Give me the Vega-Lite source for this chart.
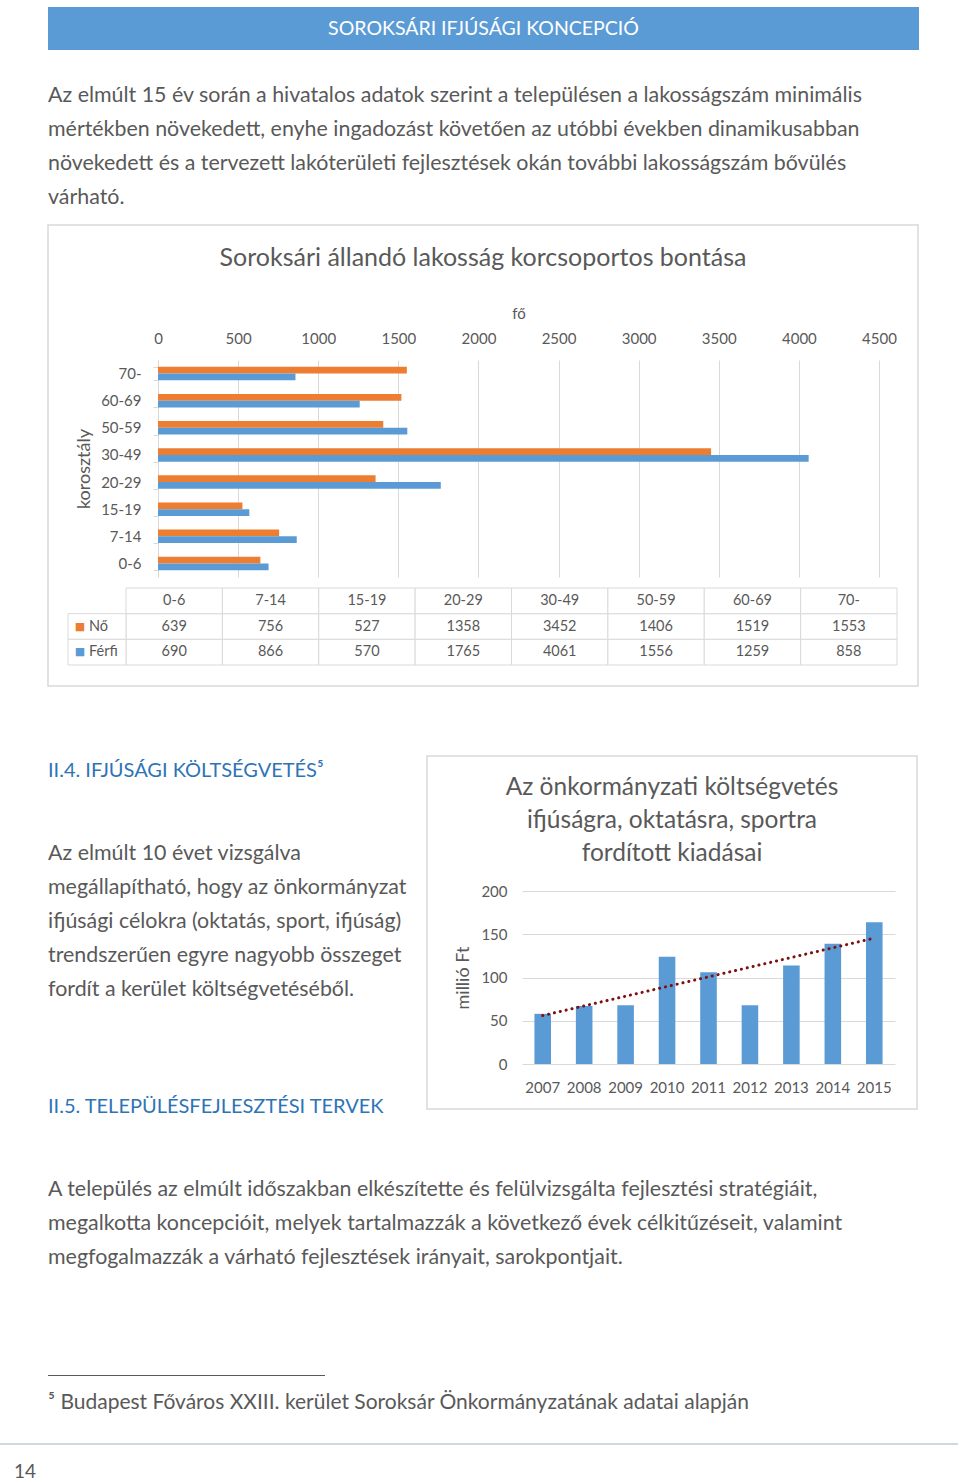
{
  "$schema": "https://vega.github.io/schema/vega-lite/v6.json",
  "padding": {"left": 0, "top": 7, "right": 0, "bottom": 0},
  "background": "white",
  "bounds": "flush",
  "spacing": 0,
  "config": {
    "font": "Lato",
    "view": {"stroke": null},
    "title": {"fontWeight": "normal", "color": "#595959", "subtitleColor": "#595959"},
    "axis": {"labelColor": "#595959", "titleColor": "#595959", "titleFontWeight": "normal"}
  },
  "datasets": {
    "lak": [
      {"kor": "0-6", "nem": "Nő", "fo": 639}, {"kor": "0-6", "nem": "Férfi", "fo": 690},
      {"kor": "7-14", "nem": "Nő", "fo": 756}, {"kor": "7-14", "nem": "Férfi", "fo": 866},
      {"kor": "15-19", "nem": "Nő", "fo": 527}, {"kor": "15-19", "nem": "Férfi", "fo": 570},
      {"kor": "20-29", "nem": "Nő", "fo": 1358}, {"kor": "20-29", "nem": "Férfi", "fo": 1765},
      {"kor": "30-49", "nem": "Nő", "fo": 3452}, {"kor": "30-49", "nem": "Férfi", "fo": 4061},
      {"kor": "50-59", "nem": "Nő", "fo": 1406}, {"kor": "50-59", "nem": "Férfi", "fo": 1556},
      {"kor": "60-69", "nem": "Nő", "fo": 1519}, {"kor": "60-69", "nem": "Férfi", "fo": 1259},
      {"kor": "70-", "nem": "Nő", "fo": 1553}, {"kor": "70-", "nem": "Férfi", "fo": 858}
    ],
    "kolts": [
      {"ev": "2007", "ertek": 58}, {"ev": "2008", "ertek": 67}, {"ev": "2009", "ertek": 68},
      {"ev": "2010", "ertek": 124}, {"ev": "2011", "ertek": 106}, {"ev": "2012", "ertek": 68},
      {"ev": "2013", "ertek": 114}, {"ev": "2014", "ertek": 139}, {"ev": "2015", "ertek": 164}
    ],
    "trend": [
      {"ev": "2007", "ertek": 56}, {"ev": "2015", "ertek": 145.5}
    ],
    "ures": [{}]
  },
  "vconcat": [
    {
      "hconcat": [
        {"width": 48, "height": 43, "data": {"name": "ures"}, "mark": "text", "encoding": {"text": {"value": ""}}},
        {"width": 871, "height": 43, "view": {"fill": "#5B9BD5", "stroke": null},
         "data": {"values": [{"t": "SOROKSÁRI IFJÚSÁGI KONCEPCIÓ"}]},
         "mark": {"type": "text", "color": "white", "fontSize": 19.5, "baseline": "middle", "align": "center"},
         "encoding": {"text": {"field": "t"}}}
      ],
      "spacing": 0, "bounds": "flush"
    },
    {"width": 960, "height": 218, "data": {"name": "ures"}, "mark": "text", "encoding": {"text": {"value": ""}}},
    {
      "hconcat": [
        {"width": 48, "height": 461, "data": {"name": "ures"}, "mark": "text", "encoding": {"text": {"value": ""}},
         "title": {"text": ["\u00a0Az elmúlt 15 év során a hivatalos adatok szerint a településen a lakosságszám minimális", "mértékben növekedett, enyhe ingadozást követően az utóbbi években dinamikusabban", "növekedett és a tervezett lakóterületi fejlesztések okán további lakosságszám bővülés", "várható."],
                   "anchor": "start", "frame": "group", "orient": "top", "offset": 17, "dx": 48, "fontSize": 21.4, "lineHeight": 34, "color": "#595959", "fontWeight": "normal"}},
        {
          "width": 870, "height": 461,
          "view": {"stroke": "#d9d9d9", "strokeWidth": 1.5},
          "title": {"text": "Soroksári állandó lakosság korcsoportos bontása", "anchor": "middle", "frame": "group", "offset": -73, "baseline": "alphabetic", "fontSize": 25, "color": "#595959", "fontWeight": "normal"},
          "resolve": {"scale": {"x": "independent", "y": "independent"}},
          "layer": [
            {
              "data": {"name": "lak"},
              "mark": {"type": "bar"},
              "encoding": {
                "x": {"field": "fo", "type": "quantitative",
                      "scale": {"domain": [0, 4500], "range": [110, 831], "nice": false},
                      "axis": {"orient": "top", "offset": -135, "values": [0, 500, 1000, 1500, 2000, 2500, 3000, 3500, 4000, 4500], "format": "d",
                               "domain": false, "ticks": false, "labelPadding": 14, "labelFontSize": 15, "labelFlush": false,
                               "grid": true, "gridColor": "#d9d9d9", "gridWidth": 1,
                               "title": "fő", "titleFontSize": 15, "titlePadding": 10}},
                "y": {"field": "kor", "type": "nominal",
                      "scale": {"domain": ["70-", "60-69", "50-59", "30-49", "20-29", "15-19", "7-14", "0-6"], "range": [135, 352], "paddingInner": 0.5, "paddingOuter": 0.25},
                      "axis": {"offset": -110, "domainColor": "#d9d9d9", "tickColor": "#d9d9d9", "tickBand": "extent", "tickSize": 5,
                               "labelPadding": 12, "labelFontSize": 15, "title": "korosztály", "titleFontSize": 18, "titlePadding": 7}},
                "yOffset": {"field": "nem", "type": "nominal", "scale": {"domain": ["Nő", "Férfi"], "paddingInner": 0}},
                "color": {"field": "nem", "type": "nominal", "scale": {"domain": ["Nő", "Férfi"], "range": ["#ED7D31", "#5B9BD5"]}, "legend": null}
              }
            },
            {
              "data": {"name": "lak"},
              "mark": {"type": "rect", "fill": "white", "stroke": "#d9d9d9", "strokeWidth": 1},
              "encoding": {
                "x": {"field": "kor", "type": "nominal", "axis": null,
                      "scale": {"domain": ["0-6", "7-14", "15-19", "20-29", "30-49", "50-59", "60-69", "70-"], "range": [78, 849], "paddingInner": 0, "paddingOuter": 0}},
                "y": {"field": "nem", "type": "nominal", "axis": null,
                      "scale": {"domain": ["fej", "Nő", "Férfi"], "range": [363, 440], "paddingInner": 0, "paddingOuter": 0}}
              }
            },
            {
              "data": {"name": "lak"},
              "mark": {"type": "text", "fontSize": 14.5, "color": "#595959"},
              "encoding": {
                "x": {"field": "kor", "type": "nominal", "axis": null,
                      "scale": {"domain": ["0-6", "7-14", "15-19", "20-29", "30-49", "50-59", "60-69", "70-"], "range": [78, 849], "paddingInner": 0, "paddingOuter": 0}},
                "y": {"field": "nem", "type": "nominal", "axis": null,
                      "scale": {"domain": ["fej", "Nő", "Férfi"], "range": [363, 440], "paddingInner": 0, "paddingOuter": 0}},
                "text": {"field": "fo", "type": "quantitative", "format": "d"}
              }
            },
            {
              "data": {"name": "lak"},
              "transform": [{"filter": "datum.nem == 'Nő'"}],
              "mark": {"type": "rect", "fill": "white", "stroke": "#d9d9d9", "strokeWidth": 1},
              "encoding": {
                "x": {"field": "kor", "type": "nominal", "axis": null,
                      "scale": {"domain": ["0-6", "7-14", "15-19", "20-29", "30-49", "50-59", "60-69", "70-"], "range": [78, 849], "paddingInner": 0, "paddingOuter": 0}},
                "y": {"datum": "fej", "type": "nominal", "axis": null,
                      "scale": {"domain": ["fej", "Nő", "Férfi"], "range": [363, 440], "paddingInner": 0, "paddingOuter": 0}}
              }
            },
            {
              "data": {"name": "lak"},
              "transform": [{"filter": "datum.nem == 'Nő'"}],
              "mark": {"type": "text", "fontSize": 14.5, "color": "#595959"},
              "encoding": {
                "x": {"field": "kor", "type": "nominal", "axis": null,
                      "scale": {"domain": ["0-6", "7-14", "15-19", "20-29", "30-49", "50-59", "60-69", "70-"], "range": [78, 849], "paddingInner": 0, "paddingOuter": 0}},
                "y": {"datum": "fej", "type": "nominal", "axis": null,
                      "scale": {"domain": ["fej", "Nő", "Férfi"], "range": [363, 440], "paddingInner": 0, "paddingOuter": 0}},
                "text": {"field": "kor"}
              }
            },
            {
              "data": {"name": "lak"},
              "transform": [{"filter": "datum.kor == '0-6'"}],
              "mark": {"type": "rect", "fill": "white", "stroke": "#d9d9d9", "strokeWidth": 1},
              "encoding": {
                "x": {"datum": "lbl", "type": "nominal", "axis": null,
                      "scale": {"domain": ["lbl"], "range": [20, 78], "paddingInner": 0, "paddingOuter": 0}},
                "y": {"field": "nem", "type": "nominal", "axis": null,
                      "scale": {"domain": ["fej", "Nő", "Férfi"], "range": [363, 440], "paddingInner": 0, "paddingOuter": 0}}
              }
            },
            {
              "data": {"name": "lak"},
              "transform": [{"filter": "datum.kor == '0-6'"}],
              "mark": {"type": "text", "fontSize": 11, "dx": -17, "font": "DejaVu Sans"},
              "encoding": {
                "x": {"datum": "lbl", "type": "nominal", "axis": null,
                      "scale": {"domain": ["lbl"], "range": [20, 78], "paddingInner": 0, "paddingOuter": 0}},
                "y": {"field": "nem", "type": "nominal", "axis": null,
                      "scale": {"domain": ["fej", "Nő", "Férfi"], "range": [363, 440], "paddingInner": 0, "paddingOuter": 0}},
                "text": {"value": "■"},
                "color": {"field": "nem", "type": "nominal", "legend": null}
              }
            },
            {
              "data": {"name": "lak"},
              "transform": [{"filter": "datum.kor == '0-6'"}],
              "mark": {"type": "text", "fontSize": 14.5, "align": "left", "dx": -8, "color": "#595959"},
              "encoding": {
                "x": {"datum": "lbl", "type": "nominal", "axis": null,
                      "scale": {"domain": ["lbl"], "range": [20, 78], "paddingInner": 0, "paddingOuter": 0}},
                "y": {"field": "nem", "type": "nominal", "axis": null,
                      "scale": {"domain": ["fej", "Nő", "Férfi"], "range": [363, 440], "paddingInner": 0, "paddingOuter": 0}},
                "text": {"field": "nem"}
              }
            }
          ]
        }
      ],
      "spacing": 0, "bounds": "flush"
    },
    {"width": 960, "height": 531, "data": {"name": "ures"}, "mark": "text", "encoding": {"text": {"value": ""}},
     "title": {"text": "II.4. IFJÚSÁGI KÖLTSÉGVETÉS⁵", "color": "#2E74B5", "fontSize": 20, "fontWeight": "normal",
               "subtitle": ["Az elmúlt 10 évet vizsgálva", "megállapítható, hogy az önkormányzat", "ifjúsági célokra (oktatás, sport, ifjúság)", "trendszerűen egyre nagyobb összeget", "fordít a kerület költségvetéséből."],
               "subtitleColor": "#595959", "subtitleFontSize": 21.4, "subtitleLineHeight": 34, "subtitlePadding": 62,
               "anchor": "start", "frame": "group", "orient": "bottom", "offset": 5, "dx": 48}},
    {
      "hconcat": [
        {"width": 427, "height": 353, "data": {"name": "ures"}, "mark": "text", "encoding": {"text": {"value": ""}}},
        {
          "width": 490, "height": 353,
          "view": {"stroke": "#d9d9d9", "strokeWidth": 1.5},
          "title": {"text": ["Az önkormányzati költségvetés", "ifjúságra, oktatásra, sportra", "fordított kiadásai"], "anchor": "middle", "frame": "group", "offset": -110, "baseline": "top", "fontSize": 24.5, "lineHeight": 33, "color": "#595959", "fontWeight": "normal"},
          "layer": [
            {
              "data": {"name": "kolts"},
              "mark": {"type": "bar", "color": "#5B9BD5"},
              "encoding": {
                "x": {"field": "ev", "type": "nominal",
                      "scale": {"domain": ["2007", "2008", "2009", "2010", "2011", "2012", "2013", "2014", "2015"], "range": [95, 468], "paddingInner": 0.6, "paddingOuter": 0.3},
                      "axis": {"orient": "bottom", "offset": -45, "domain": false, "ticks": false, "labelAngle": 0, "labelPadding": 16, "labelFontSize": 15, "title": null}},
                "y": {"field": "ertek", "type": "quantitative",
                      "scale": {"domain": [0, 200], "range": [308, 135], "nice": false},
                      "axis": {"offset": -95, "values": [0, 50, 100, 150, 200], "domain": false, "ticks": false, "grid": true, "gridColor": "#d9d9d9",
                               "labelPadding": 15, "labelFontSize": 15, "title": "millió Ft", "titleFontSize": 18, "titlePadding": 8}}
              }
            },
            {
              "data": {"name": "trend"},
              "mark": {"type": "line", "color": "#7F1010", "strokeWidth": 3, "strokeDash": [0.1, 5.9], "strokeCap": "round"},
              "encoding": {
                "x": {"field": "ev", "type": "nominal"},
                "y": {"field": "ertek", "type": "quantitative"}
              }
            }
          ]
        }
      ],
      "spacing": 0, "bounds": "flush"
    },
    {"width": 960, "height": 619, "data": {"name": "ures"}, "mark": "text", "encoding": {"text": {"value": ""}}},
    {
      "hconcat": [
        {"width": 48, "height": 1, "data": {"name": "ures"}, "mark": "text", "encoding": {"text": {"value": ""}},
         "title": {"text": "II.5. TELEPÜLÉSFEJLESZTÉSI TERVEK", "color": "#2E74B5", "fontSize": 20, "fontWeight": "normal",
                   "subtitle": ["A település az elmúlt időszakban elkészítette és felülvizsgálta fejlesztési stratégiáit,", "megalkotta koncepcióit, melyek tartalmazzák a következő évek célkitűzéseit, valamint", "megfogalmazzák a várható fejlesztések irányait, sarokpontjait."],
                   "subtitleColor": "#595959", "subtitleFontSize": 21.4, "subtitleLineHeight": 34, "subtitlePadding": 62,
                   "anchor": "start", "frame": "group", "orient": "top", "offset": 101, "dx": 48}},
        {"width": 277, "height": 1, "view": {"fill": "#595959", "stroke": null}, "data": {"name": "ures"}, "mark": "text", "encoding": {"text": {"value": ""}}}
      ],
      "spacing": 0, "bounds": "flush"
    },
    {"width": 960, "height": 44, "data": {"name": "ures"}, "mark": "text", "encoding": {"text": {"value": ""}}},
    {"width": 960, "height": 24, "data": {"name": "ures"}, "mark": "text", "encoding": {"text": {"value": ""}},
     "title": {"text": "⁵ Budapest Főváros XXIII. kerület Soroksár Önkormányzatának adatai alapján", "fontSize": 21, "color": "#595959", "fontWeight": "normal",
               "anchor": "start", "frame": "group", "orient": "top", "offset": 6, "dx": 48}},
    {"width": 958, "height": 2, "view": {"fill": "#d0d8df", "stroke": null}, "data": {"name": "ures"}, "mark": "text", "encoding": {"text": {"value": ""}},
     "title": {"text": "14", "fontSize": 19, "color": "#595959", "fontWeight": "normal",
               "anchor": "start", "frame": "group", "orient": "bottom", "offset": 14, "dx": 14}}
  ]
}
